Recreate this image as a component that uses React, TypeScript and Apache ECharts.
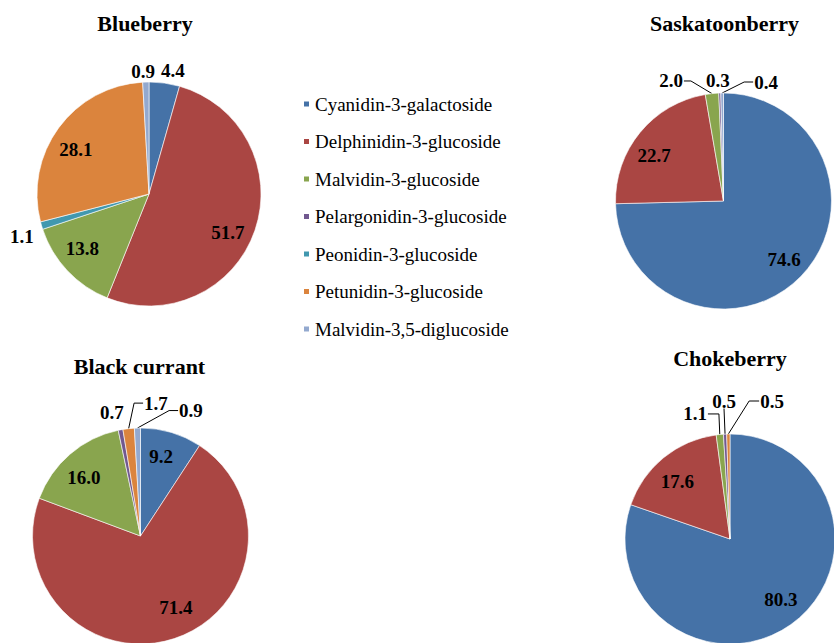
import React, { useEffect, useRef } from 'react';
import * as echarts from 'echarts';

// ---- data ----
const compounds = [
  'Cyanidin-3-galactoside',
  'Delphinidin-3-glucoside',
  'Malvidin-3-glucoside',
  'Pelargonidin-3-glucoside',
  'Peonidin-3-glucoside',
  'Petunidin-3-glucoside',
  'Malvidin-3,5-diglucoside',
];
const fruits = ['Blueberry', 'Saskatoonberry', 'Black currant', 'Chokeberry'];
const blueberry = [4.4, 51.7, 13.8, 0, 1.1, 28.1, 0.9];
const saskatoonberry = [74.6, 22.7, 2.0, 0.3, 0, 0, 0.4];
const blackCurrant = [9.2, 71.4, 16.0, 0.7, 0, 1.7, 0.9];
const chokeberry = [80.3, 17.6, 1.1, 0.5, 0, 0.5, 0];
const fruitValues = [blueberry, saskatoonberry, blackCurrant, chokeberry];

// ---- style ----
const compoundColors = ['#4572A7', '#AA4643', '#89A54E', '#71588F', '#4198AF', '#DB843D', '#93A9CF'];
const FONT = 'Liberation Serif';

type Cfg = { pos: 'inside' | 'outside'; nudge: [number, number]; line?: 'left' | 'right' | 'bottom'; len2?: number };
const I = (dx: number, dy: number): Cfg => ({ pos: 'inside', nudge: [dx, dy] });
const O = (dx: number, dy: number, line?: 'left' | 'right' | 'bottom', len2 = 0): Cfg => ({ pos: 'outside', nudge: [dx, dy], line, len2 });

const pieLayouts = [
  { center: [149, 194], r: 112, title: [145, 23] },
  { center: [723.5, 201], r: 108, title: [724.5, 23] },
  { center: [140.5, 536], r: 108, title: [139.5, 366] },
  { center: [730, 539], r: 105, title: [730, 358] },
];
// per compound label placement (style only)
const labelCfgs: (Cfg | null)[][] = [
  [O(-9.7, -2.2), I(-2.6, 10.1), I(-3.7, -5), null, O(6.9, 7.6), I(-3.4, 6), O(14.4, -1)],
  [I(1, 0), I(-5.2, 7.8), O(-23, -2.7, 'right', 7), O(15.4, -2.1), null, null, O(60.9, -1, 'left', 9)],
  [I(-3.2, 0.7), I(9.5, -8), I(-2.3, 4.1), O(10.1, -7.5), null, O(45.3, -15.6, 'left', 9), O(70.7, -7.5, 'left', 9)],
  [I(4, -4.9), I(-1.4, 4.7), O(-6.9, -10.6, 'right', 11), O(16.3, -23.1, 'bottom'), null, O(60.7, -23, 'left', 10), null],
];
const INSIDE_FRAC = 0.77;

export default function App() {
  const ref = useRef<HTMLDivElement>(null);
  useEffect(() => {
    if (!ref.current) return;
    const chart = echarts.init(ref.current, null, { renderer: 'svg' });

    const series = fruitValues.map((vals, fi) => {
      const lay = pieLayouts[fi];
      const cfgs: Cfg[] = [];
      const data: any[] = [];
      vals.forEach((v, ci) => {
        if (!v) return;
        const cfg = labelCfgs[fi][ci] || I(0, 0);
        cfgs.push(cfg);
        data.push({
          name: compounds[ci],
          value: v,
          itemStyle: { color: compoundColors[ci] },
          label: { show: true, position: cfg.pos },
          labelLine: { show: !!cfg.line },
        });
      });
      return {
        type: 'pie',
        center: lay.center,
        radius: lay.r,
        startAngle: 90,
        clockwise: true,
        avoidLabelOverlap: false,
        animation: false,
        emphasis: { disabled: true },
        itemStyle: { borderColor: '#ffffff', borderWidth: 0.6 },
        label: {
          fontFamily: FONT,
          fontWeight: 'bold',
          fontSize: 19,
          color: '#000',
          distanceToLabelLine: 5,
          formatter: (p: any) => Number(p.value).toFixed(1),
        },
        labelLine: { length: 10, length2: 0, smooth: false, lineStyle: { color: '#000', width: 1 } },
        labelLayout: (p: any) => {
          const cfg = cfgs[p.dataIndex];
          const rect = p.labelRect;
          const w = rect.width, h = rect.height;
          const c0x = rect.x + w / 2, c0y = rect.y + h / 2;
          let X: number, Y: number;
          if (cfg.pos === 'inside') {
            const vx = c0x - lay.center[0], vy = c0y - lay.center[1];
            const d = Math.hypot(vx, vy) || 1;
            X = lay.center[0] + (vx / d) * INSIDE_FRAC * lay.r + cfg.nudge[0];
            Y = lay.center[1] + (vy / d) * INSIDE_FRAC * lay.r + cfg.nudge[1];
          } else {
            X = c0x + cfg.nudge[0];
            Y = c0y + cfg.nudge[1];
          }
          const out: any = { x: X, y: Y, align: 'center', verticalAlign: 'middle' };
          if (cfg.line && p.labelLinePoints && p.labelLinePoints.length) {
            const p0 = p.labelLinePoints[0];
            const len2 = cfg.len2 || 0;
            if (cfg.line === 'left') {
              const ex = X - w / 2 - 1;
              out.labelLinePoints = [[p0[0], p0[1]], [ex - len2, Y], [ex, Y]];
            } else if (cfg.line === 'right') {
              const ex = X + w / 2 + 1;
              out.labelLinePoints = [[p0[0], p0[1]], [ex + len2, Y], [ex, Y]];
            } else {
              const ey = Y + h / 2 - 2;
              out.labelLinePoints = [[p0[0], p0[1]], [X, ey]];
            }
          }
          return out;
        },
        data,
      };
    });

    chart.setOption({
      animation: false,
      backgroundColor: '#ffffff',
      legend: {
        orient: 'vertical',
        left: 302,
        top: 94.5,
        padding: 0,
        itemWidth: 7,
        itemHeight: 7,
        itemGap: 18.5,
        icon: 'rect',
        selectedMode: false,
        textStyle: { fontFamily: FONT, fontSize: 19, color: '#000', lineHeight: 19 },
        data: compounds,
      },
      graphic: fruits.map((name, i) => ({
        type: 'text',
        x: pieLayouts[i].title[0],
        y: pieLayouts[i].title[1],
        style: {
          text: name,
          fontFamily: FONT,
          fontWeight: 'bold',
          fontSize: 22,
          fill: '#000',
          align: 'center',
          verticalAlign: 'middle',
        },
      })),
      series,
    });
    return () => chart.dispose();
  }, []);
  return <div ref={ref} style={{ position: 'fixed', left: 0, top: 0, width: 834, height: 643 }} />;
}
